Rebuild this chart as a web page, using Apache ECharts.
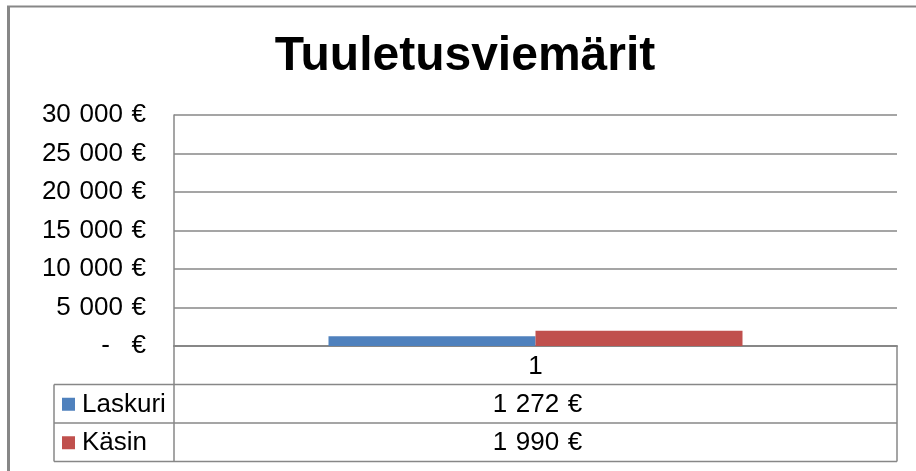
<!DOCTYPE html>
<html>
<head>
<meta charset="utf-8">
<title>Tuuletusviemärit</title>
<script src="https://cdn.jsdelivr.net/npm/echarts@6/dist/echarts.min.js"></script>
<style>
  html, body { margin: 0; padding: 0; background: #fff; }
  #chart { width: 916px; height: 471px; }
</style>
</head>
<body>
<div id="chart"></div>
<script>
// data
var titleText = 'Tuuletusviemärit'
var categories = ['1']
var seriesNames = ['Laskuri', 'Käsin']
var laskuriValues = [1272]
var kasinValues = [1990]
var yTicks = [0, 5000, 10000, 15000, 20000, 25000, 30000]

// styles
var colors = ['#4f81bd', '#c0504d']
var lineColor = '#878787'
var font = '"Liberation Sans", Arial, sans-serif'
var fs = 26

// layout of the plot area (px)
var plot = { left: 174, right: 897, top: 115, bottom: 346 }
var tableLeft = 54
var rowH = 38.5

// accounting style: "1 272 €", zero shown as "-   €"
function euro (v) {
  if (v === 0) return '-   €'
  return String(v).replace(/\B(?=(\d{3})+(?!\d))/g, '\u2004') + '\u2004€'
}

var allValues = [laskuriValues, kasinValues]
var chart = echarts.init(document.getElementById('chart'))

// data table below the axis, built from the arrays above
var graphics = []
function hline (x1, x2, y, w) {
  graphics.push({ type: 'line', silent: true, shape: { x1: x1, y1: y, x2: x2, y2: y }, style: { stroke: lineColor, lineWidth: w || 1.5 } })
}
function vline (x, y1, y2, w) {
  graphics.push({ type: 'line', silent: true, shape: { x1: x, y1: y1, x2: x, y2: y2 }, style: { stroke: lineColor, lineWidth: w || 1.5 } })
}
var tableBottom = plot.bottom + rowH * (seriesNames.length + 1)
vline(plot.left, plot.bottom, tableBottom)
vline(plot.right, plot.bottom, tableBottom)
vline(tableLeft, plot.bottom + rowH, tableBottom)
seriesNames.forEach(function (name, i) {
  var yTop = plot.bottom + rowH * (i + 1)
  hline(tableLeft, plot.right, yTop)
  var yMid = yTop + rowH / 2 + 1
  graphics.push({ type: 'rect', silent: true, shape: { x: 62, y: yMid - 7, width: 13, height: 13 }, style: { fill: colors[i] } })
  graphics.push({ type: 'text', silent: true, x: 82, y: yMid, style: { text: name, font: fs + 'px ' + font, fill: '#000', align: 'left', verticalAlign: 'middle' } })
  graphics.push({ type: 'text', silent: true, x: (plot.left + plot.right) / 2 + 2, y: yMid, style: { text: euro(allValues[i][0]), font: fs + 'px ' + font, fill: '#000', align: 'center', verticalAlign: 'middle' } })
})
hline(tableLeft, plot.right, tableBottom)

// chart frame and title
graphics.push({ type: 'line', silent: true, shape: { x1: 8.5, y1: 6, x2: 8.5, y2: 471 }, style: { stroke: lineColor, lineWidth: 3 } })
graphics.push({ type: 'line', silent: true, shape: { x1: 7, y1: 6.5, x2: 916, y2: 6.5 }, style: { stroke: lineColor, lineWidth: 2 } })
graphics.push({ type: 'text', silent: true, x: 465, y: 57, style: { text: titleText, font: 'bold 48px ' + font, fill: '#000', align: 'center', verticalAlign: 'middle' } })

chart.setOption({
  animation: false,
  textStyle: { fontFamily: font },
  grid: {
    left: plot.left,
    right: 916 - plot.right,
    top: plot.top,
    bottom: 471 - plot.bottom,
    containLabel: false
  },
  xAxis: {
    type: 'category',
    data: categories,
    axisTick: { show: false },
    axisLine: { show: true, lineStyle: { color: lineColor, width: 2 } },
    axisLabel: { color: '#000', fontSize: fs, margin: 8 }
  },
  yAxis: {
    type: 'value',
    min: yTicks[0],
    max: yTicks[yTicks.length - 1],
    interval: yTicks[1] - yTicks[0],
    axisLine: { show: true, lineStyle: { color: lineColor, width: 1.5 } },
    axisTick: { show: false },
    splitLine: { lineStyle: { color: lineColor, width: 1.5 } },
    axisLabel: { color: '#000', fontSize: fs, margin: 28, formatter: euro }
  },
  series: seriesNames.map(function (name, i) {
    return {
      name: name,
      type: 'bar',
      data: allValues[i],
      barWidth: 207,
      barGap: '0%',
      itemStyle: { color: colors[i] }
    }
  }),
  graphic: graphics
})
</script>
</body>
</html>
